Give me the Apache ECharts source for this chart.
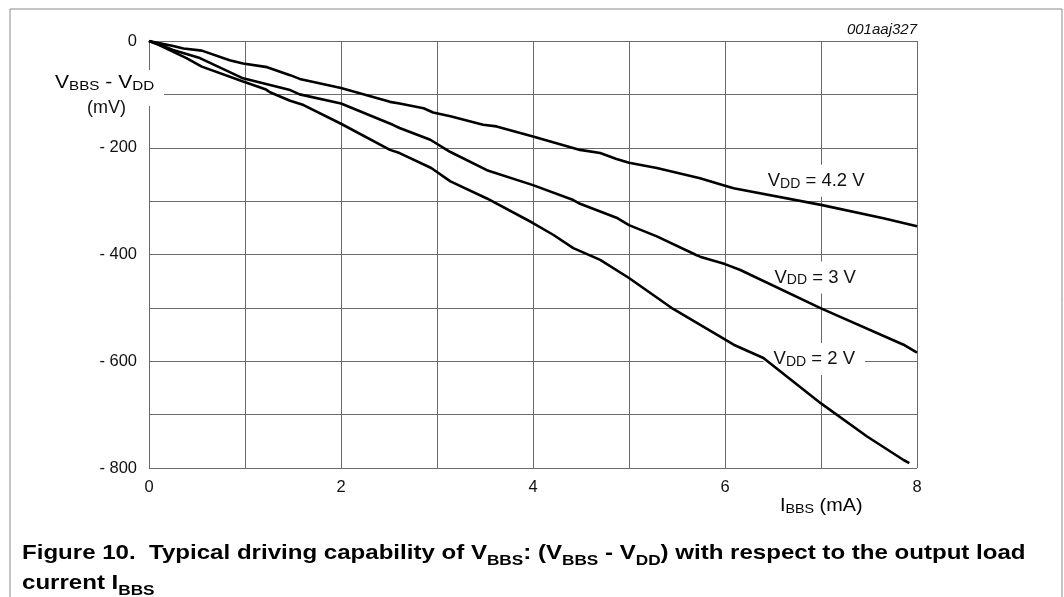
<!DOCTYPE html>
<html><head><meta charset="utf-8">
<script src="https://cdn.jsdelivr.net/npm/echarts@6/dist/echarts.min.js"></script>
<style>html,body{margin:0;padding:0;background:#fff}#c{width:1064px;height:597px}</style>
</head><body><div id="c"></div>
<script>
// I_BBS (mA) and V_BBS - V_DD (mV) for each curve
const x42 = [0, 0.10, 0.24, 0.36, 0.55, 0.84, 0.98, 1.23, 1.47, 1.57, 2.0, 2.51, 2.61, 2.86, 2.96, 3.14, 3.48, 3.62, 4.0, 4.49, 4.70, 4.87, 5.0, 5.29, 5.74, 6.0, 6.09, 7.0, 7.65, 8.0];
const y42 = [0, -4, -9, -14, -18, -36, -42, -49, -64, -71, -88, -114, -117, -126, -134, -141, -157, -160, -179, -204, -210, -221, -228, -238, -257, -271, -276, -307, -332, -347];
const x30 = [0, 0.10, 0.25, 0.53, 0.98, 1.47, 1.57, 2.0, 2.54, 2.61, 2.93, 3.14, 3.52, 4.0, 4.42, 4.49, 4.87, 5.0, 5.29, 5.70, 5.74, 6.0, 6.16, 7.0, 7.86, 8.0];
const y30 = [0, -6, -17, -32, -70, -92, -100, -117, -157, -163, -185, -208, -242, -270, -298, -305, -331, -345, -366, -401, -404, -418, -429, -501, -569, -584];
const x20 = [0, 0.10, 0.39, 0.55, 0.98, 1.22, 1.26, 1.47, 1.61, 2.0, 2.51, 2.61, 2.94, 3.14, 3.52, 4.0, 4.21, 4.42, 4.51, 4.70, 5.0, 5.46, 5.95, 6.09, 6.40, 7.0, 7.48, 7.86, 7.92];
const y20 = [0, -7, -32, -48, -76, -91, -96, -112, -120, -155, -204, -210, -238, -263, -295, -341, -363, -388, -395, -410, -444, -502, -554, -569, -594, -679, -741, -785, -791];
const curveLabels = ['4.2 V', '3 V', '2 V'];
const xTickLabels = [0, 2, 4, 6, 8];
const yTickLabels = [0, -200, -400, -600, -800];

const FONT = "'Liberation Sans', Arial, sans-serif";
const zip = (a, b) => a.map((v, i) => [v, b[i]]);
const richN = { fontSize: 18, fontFamily: FONT, color: '#111', lineHeight: 20, verticalAlign: 'middle' };
const richS = { fontSize: 13, fontFamily: FONT, color: '#111', lineHeight: 12, verticalAlign: 'bottom' };
const richN2 = Object.assign({}, richN, { fontSize: 18.5 });
const richS2 = Object.assign({}, richS, { fontSize: 14 });

function lineSeries(name, xs, ys) {
  return {
    type: 'line', name: name, data: zip(xs, ys), showSymbol: false, symbol: 'none', z: 3,
    lineStyle: { color: '#000', width: 2.6 }, animation: false, silent: true
  };
}
const labelCoords = [[6.95, -262], [6.94, -443], [6.93, -596]];

const chart = echarts.init(document.getElementById('c'), null, { renderer: 'canvas' });
chart.setOption({
  animation: false,
  backgroundColor: '#fff',
  grid: { left: 149, top: 41, right: 147, bottom: 129 },
  xAxis: {
    type: 'value', min: 0, max: 8, interval: 1,
    axisLine: { show: true, lineStyle: { color: '#6a6a6a', width: 1 } },
    axisTick: { show: false },
    splitLine: { show: true, lineStyle: { color: '#6a6a6a', width: 1 } },
    axisLabel: { margin: 11, fontSize: 16.5, fontFamily: FONT, color: '#111',
      formatter: v => xTickLabels.includes(v) ? String(v) : '' }
  },
  yAxis: {
    type: 'value', min: -800, max: 0, interval: 100,
    axisLine: { show: true, lineStyle: { color: '#6a6a6a', width: 1 } },
    axisTick: { show: false },
    splitLine: { show: true, lineStyle: { color: '#6a6a6a', width: 1 } },
    axisLabel: { margin: 12, fontSize: 16.5, fontFamily: FONT, color: '#111',
      formatter: v => yTickLabels.includes(v) ? (v === 0 ? '0' : '- ' + (-v)) : '' }
  },
  series: [
    lineSeries('VDD = 4.2 V', x42, y42),
    lineSeries('VDD = 3 V', x30, y30),
    lineSeries('VDD = 2 V', x20, y20),
    {
      type: 'scatter', z: 2, symbolSize: 0, silent: true, animation: false,
      itemStyle: { opacity: 1 },
      data: labelCoords.map((c, i) => ({
        value: c,
        label: { formatter: '{n|V}{s|DD}{n| = ' + curveLabels[i] + '}' }
      })),
      label: {
        show: true, position: 'inside', opacity: 1,
        backgroundColor: '#fff', padding: [6, 10, 6, 10],
        rich: { n: richN2, s: richS2 }
      }
    }
  ],
  graphic: [
    { type: 'rect', z: 1, silent: true, shape: { x: 10, y: 9, width: 1052, height: 620 },
      style: { fill: 'none', stroke: '#8a8a8a', lineWidth: 1 } },
    { type: 'rect', z: 50, silent: true, shape: { x: 46, y: 70, width: 118, height: 36 },
      style: { fill: '#fff' } },
    { type: 'text', z: 51, silent: true, x: 55, y: 73, scaleX: 1.17,
      style: { text: '{n|V}{s|BBS}{n| - V}{s|DD}', rich: { n: richN, s: richS } } },
    { type: 'text', z: 51, silent: true, x: 87, y: 99,
      style: { text: '(mV)', fontSize: 18, fontFamily: FONT, fill: '#111' } },
    { type: 'text', z: 51, silent: true, x: 917, y: 22,
      style: { text: '001aaj327', fontSize: 15, fontStyle: 'italic', fontFamily: FONT, fill: '#111', align: 'right' } },
    { type: 'text', z: 51, silent: true, x: 780, y: 496, scaleX: 1.1,
      style: { text: '{n|I}{s|BBS}{n| (mA)}', rich: { n: richN, s: richS } } },
    { type: 'text', z: 51, silent: true, x: 22, y: 538, scaleX: 1.146,
      style: {
        text: '{b|Figure 10.  Typical driving capability of V}{bs|BBS}{b|: (V}{bs|BBS}{b| - V}{bs|DD}{b|) with respect to the output load}\n{b|current I}{bs|BBS}',
        rich: {
          b: { fontSize: 21, fontWeight: 'bold', fontFamily: FONT, color: '#3f3f3f', lineHeight: 30, verticalAlign: 'middle' },
          bs: { fontSize: 15, fontWeight: 'bold', fontFamily: FONT, color: '#3f3f3f', lineHeight: 14, verticalAlign: 'bottom' }
        }
      } }
  ]
});
</script></body></html>
